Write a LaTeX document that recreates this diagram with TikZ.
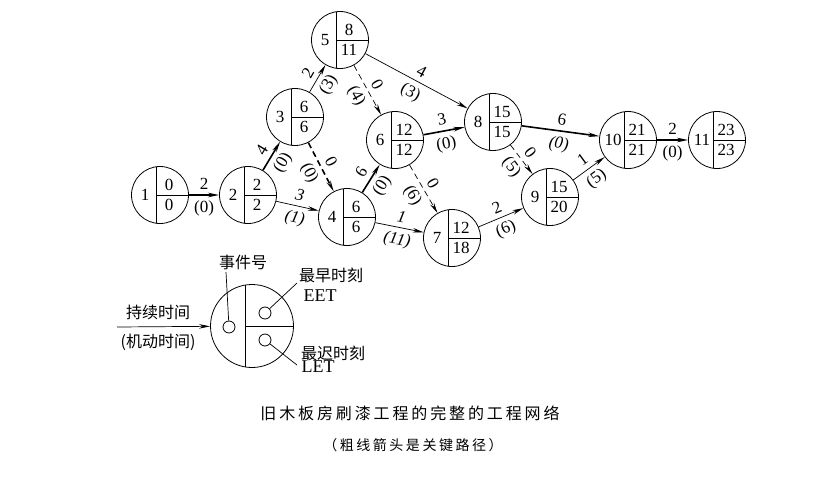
\documentclass[tikz,border=0pt]{standalone}
\usepackage{fontspec}
\setmainfont{Liberation Serif}
\newfontfamily\cjk{Noto Sans CJK SC}
\newfontfamily\cjkwide[LetterSpace=18]{Noto Sans CJK SC}
\usetikzlibrary{calc,arrows.meta}
% one event circle: number, earliest and latest time
\newcommand{\evt}[4]{%
  \node[evt] (e#1) at (#2) {};
  \node[inr] (e#1n) at ([xshift=-15pt]e#1.center) {#1};
  \node[inr] (e#1a) at ([xshift=9pt,yshift=10pt]e#1.center) {#3};
  \node[inr] (e#1b) at ([xshift=9pt,yshift=-10pt]e#1.center) {#4};}

\begin{document}
\begin{tikzpicture}[x=1pt,y=-1pt,
  evt/.style={circle,draw,line width=0.8pt,minimum size=57pt,inner sep=0pt,
    path picture={\draw[line width=0.8pt] ([xshift=-4pt]path picture bounding box.north)--([xshift=-4pt]path picture bounding box.south)
      ([xshift=-4pt]path picture bounding box.center)--(path picture bounding box.east);}},
  lgd/.style={circle,draw,line width=0.8pt,minimum size=83pt,inner sep=0pt,
    path picture={\draw[line width=0.8pt] ([xshift=-7pt]path picture bounding box.north)--([xshift=-7pt]path picture bounding box.south)
      ([xshift=-7pt]path picture bounding box.center)--(path picture bounding box.east);}},
  dot/.style={circle,draw,line width=0.8pt,minimum size=12pt,inner sep=0pt},
  inr/.style={inner sep=0pt,font=\fontsize{17}{17}\selectfont},
  act/.style={line width=0.7pt,-{Stealth[length=11pt,width=4.5pt]}},
  crit/.style={act,line width=1.6pt},
  dum/.style={dash pattern=on 6pt off 4pt},
  lbl/.style={midway,sloped,inner sep=2pt,font=\fontsize{17}{17}\selectfont},
  cjktxt/.style={inner sep=0pt,font=\cjk\fontsize{16}{16}\selectfont},
  ltx/.style={inner sep=0pt,font=\fontsize{18}{18}\selectfont}]
\useasboundingbox (0,0) rectangle (823,491);

% events
\evt{1}{160,195}{0}{0}
\evt{2}{248,195}{2}{2}
\evt{3}{295,117}{6}{6}
\evt{4}{347,217}{6}{6}
\evt{5}{340,40}{8}{11}
\evt{6}{395,140}{12}{12}
\evt{7}{452,238}{12}{18}
\evt{8}{493,122}{15}{15}
\evt{9}{550,197}{15}{20}
\evt{10}{628,140}{21}{21}
\evt{11}{717,140}{23}{23}

% activities
\draw[crit] (e1) -- node[lbl,above=3pt] (w12) {2} node[lbl,below=3pt] (f12) {(0)} (e2);
\draw[crit] (e2) -- node[lbl,above=3pt] (w23) {4} node[lbl,below=3pt] (f23) {(0)} (e3);
\draw[act] (e2) -- node[lbl,above=3pt] (w24) {\textit{3}} node[lbl,below=3pt] (f24) {\textit{(1)}} (e4);
\draw[act] (e3) -- node[lbl,above=3pt] (w35) {2} node[lbl,below=3pt] (f35) {(3)} (e5);
\draw[crit,dum] (e3) -- node[lbl,above=3pt] (w34) {0} node[lbl,below=3pt] (f34) {(0)} (e4);
\draw[act,dum] (e5) -- node[lbl,above=3pt] (w56) {0} node[lbl,below=3pt] (f56) {(4)} (e6);
\draw[act] (e5) -- node[lbl,above=3pt] (w58) {4} node[lbl,below=3pt] (f58) {(3)} (e8);
\draw[crit] (e4) -- node[lbl,above=3pt] (w46) {6} node[lbl,below=3pt] (f46) {(0)} (e6);
\draw[act] (e4) -- node[lbl,above=3pt] (w47) {\textit{1}} node[lbl,below=3pt] (f47) {\textit{(11)}} (e7);
\draw[crit] (e6) -- node[lbl,above=3pt] (w68) {3} node[lbl,below=3pt] (f68) {(0)} (e8);
\draw[act,dum] (e6) -- node[lbl,above=3pt] (w67) {0} node[lbl,below=3pt] (f67) {(6)} (e7);
\draw[act,dum] (e8) -- node[lbl,above=3pt] (w89) {0} node[lbl,below=3pt] (f89) {(5)} (e9);
\draw[crit] (e8) -- node[lbl,above=3pt] (w810) {6} node[lbl,below=3pt] (f810) {\textit{(0)}} (e10);
\draw[act] (e7) -- node[lbl,above=3pt] (w79) {2} node[lbl,below=3pt] (f79) {(6)} (e9);
\draw[act] (e9) -- node[lbl,above=3pt] (w910) {1} node[lbl,below=3pt] (f910) {(5)} (e10);
\draw[crit] (e10) -- node[lbl,above=3pt] (w1011) {2} node[lbl,below=3pt] (f1011) {(0)} (e11);

% legend
\node[lgd] (lg) at (252,326) {};
\node[dot] (lgn) at (229,327) {};
\node[dot] (lge) at (265,313) {};
\node[dot] (lgl) at (265,340) {};
\node[cjktxt] (tn) at (243,262) {事件号};
\node[cjktxt] (te) at (331,275) {最早时刻};
\node[ltx] (te2) at (320,296) {EET};
\node[cjktxt] (tl) at (333,353) {最迟时刻};
\node[ltx] (tl2) at (318,367) {LET};
\node[cjktxt] (td) at (158,312) {持续时间};
\node[cjktxt] (tf) at (158,342) {(机动时间)};
\coordinate (lgin) at (117,327);
\coordinate (pn) at (226,272);
\coordinate (pe) at (297,283);
\coordinate (pl) at (297,365);
\draw[act] (lgin) -- (lg);
\draw[line width=0.7pt] (lgn) -- (pn) (lge) -- (pe) (lgl) -- (pl);

% captions
\node[inner sep=0pt,font=\cjkwide\fontsize{16}{16}\selectfont] (ttl) at (410,413) {旧木板房刷漆工程的完整的工程网络};
\node[inner sep=0pt,font=\cjkwide\fontsize{14}{14}\selectfont] (sub) at (413,445) {（粗线箭头是关键路径）};
\end{tikzpicture}
\end{document}
